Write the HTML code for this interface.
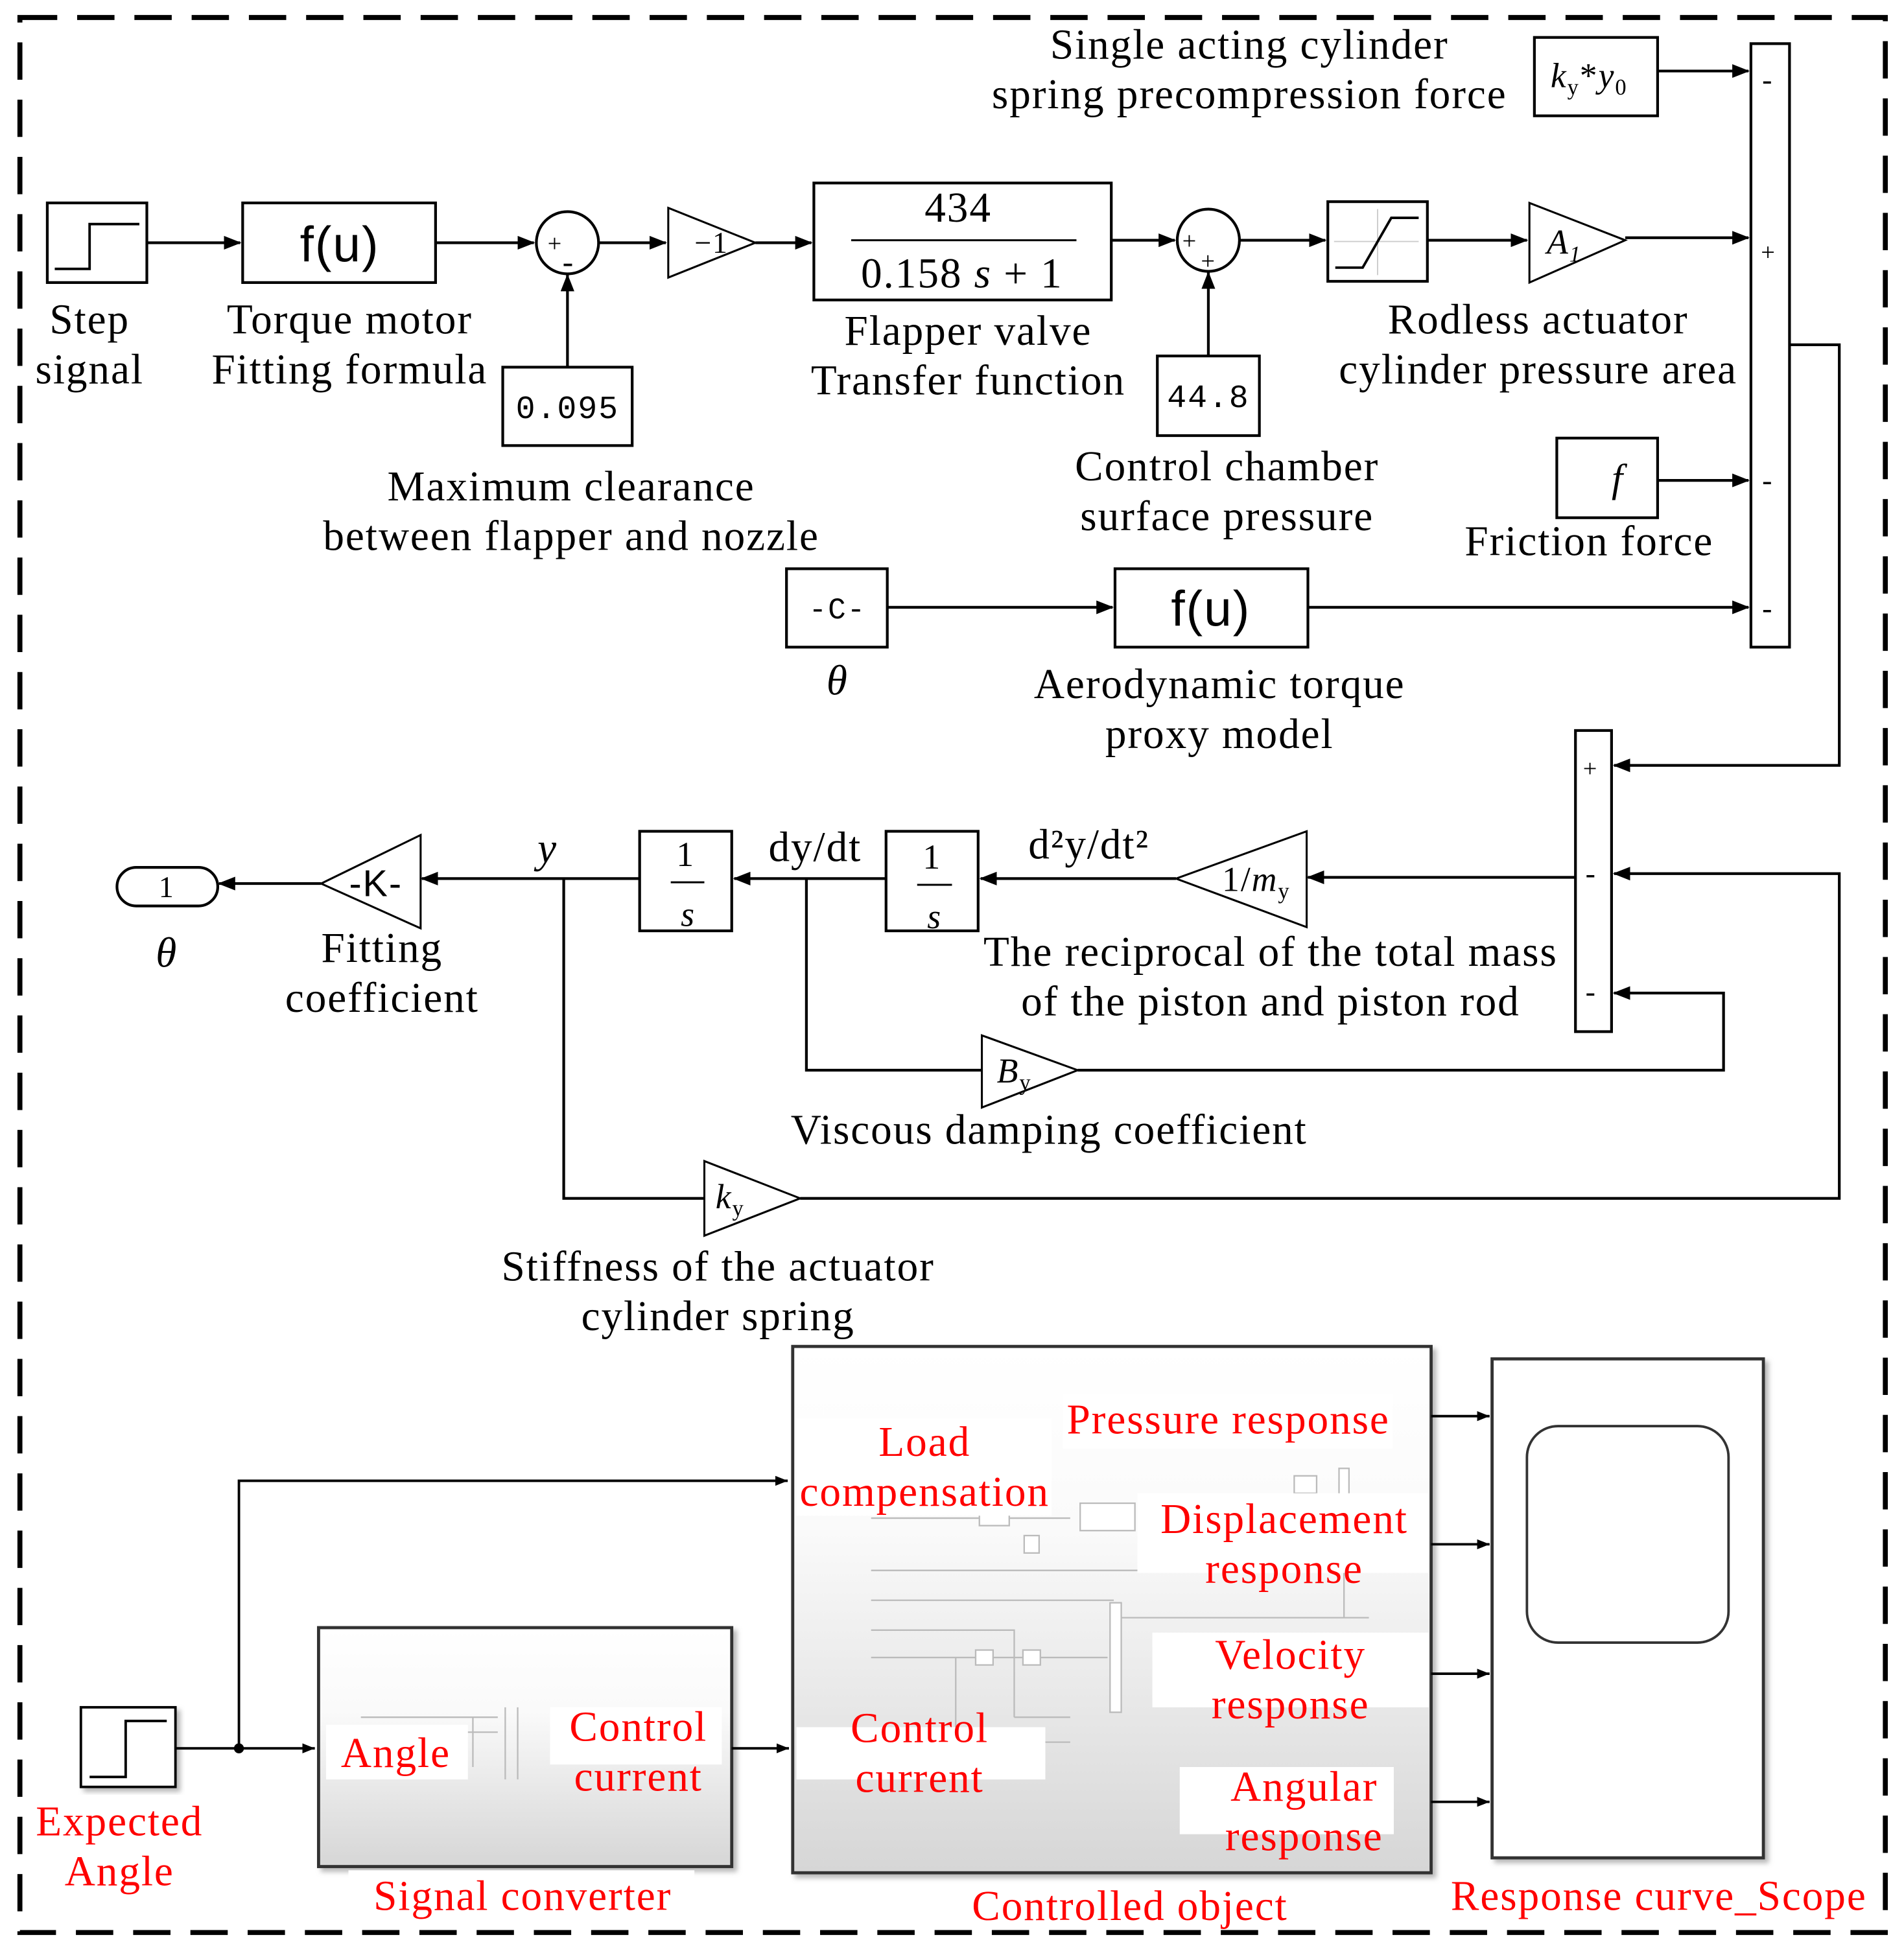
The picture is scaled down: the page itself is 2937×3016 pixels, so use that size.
<!DOCTYPE html>
<html><head><meta charset="utf-8"><style>
html,body{margin:0;padding:0;background:#fff}
svg{display:block}
text{font-family:"Liberation Serif",serif;font-size:34px;fill:#000;letter-spacing:1px}
.r{fill:#ff0000}
.i{font-style:italic}
</style></head><body>
<svg width="2937" height="3016" viewBox="0 0 1530 1571" xmlns="http://www.w3.org/2000/svg">
<defs>
<marker id="a" markerWidth="14" markerHeight="11" refX="13" refY="5.5" orient="auto" markerUnits="userSpaceOnUse"><path d="M0,0 L14,5.5 L0,11 Z" fill="#000"/></marker>
<marker id="b" markerWidth="10" markerHeight="8" refX="10" refY="4" orient="auto" markerUnits="userSpaceOnUse"><path d="M0,0 L10,4 L0,8 Z" fill="#000"/></marker>
<linearGradient id="g" x1="0" y1="0" x2="0" y2="1"><stop offset="0" stop-color="#fff"/><stop offset="0.35" stop-color="#fafafa"/><stop offset="1" stop-color="#d6d6d6"/></linearGradient>
<filter id="sh"><feDropShadow dx="3" dy="3" stdDeviation="2" flood-color="#888" flood-opacity="0.6"/></filter>
</defs>
<rect x="0" y="0" width="1530" height="1571" fill="#fff"/>
<rect x="16" y="14" width="1499" height="1539" fill="none" stroke="#000" stroke-width="4" stroke-dasharray="30,16"/>

<g fill="none" stroke="#000" stroke-width="2.2">
<rect x="38" y="163" width="80" height="64" fill="#fff"/>
<path d="M44,216 H72 V180 H112" stroke-width="2"/>
<path d="M118,195 H193" marker-end="url(#a)"/>
<rect x="195" y="163" width="155" height="64"/>
<path d="M350,195 H429" marker-end="url(#a)"/>
<circle cx="456" cy="195" r="25"/>
<rect x="404" y="295" width="104" height="63"/>
<path d="M456,295 V221" marker-end="url(#a)"/>
<path d="M481,195 H535" marker-end="url(#a)"/>
<path d="M537,167 L607,195 L537,223 Z" stroke-width="1.6"/>
<path d="M607,195 H652" marker-end="url(#a)"/>
<rect x="654" y="147" width="239" height="94"/>
<path d="M684,193 H865" stroke-width="1.6"/>
<path d="M893,193 H944" marker-end="url(#a)"/>
<circle cx="971" cy="193" r="25"/>
<rect x="930" y="286" width="82" height="64"/>
<path d="M971,286 V219" marker-end="url(#a)"/>
<path d="M996,193 H1065" marker-end="url(#a)"/>
<rect x="1067" y="162" width="80" height="64"/>
<path d="M1072,194 H1140 M1107,168 V221" stroke="#ccc" stroke-width="1"/>
<path d="M1073,215 H1095 L1118,175 H1140" stroke-width="2"/>
<path d="M1147,193 H1227" marker-end="url(#a)"/>
<path d="M1229,163 L1306,193 L1229,227 Z" stroke-width="1.6"/>
<path d="M1306,191 H1405" marker-end="url(#a)"/>
<rect x="1407" y="35" width="31" height="485"/>
<rect x="1233" y="30" width="99" height="63"/>
<path d="M1332,57 H1405" marker-end="url(#a)"/>
<rect x="1251" y="352" width="81" height="64"/>
<path d="M1332,386 H1405" marker-end="url(#a)"/>
<rect x="632" y="457" width="81" height="63"/>
<path d="M713,488 H894" marker-end="url(#a)"/>
<rect x="896" y="457" width="155" height="63"/>
<path d="M1051,488 H1405" marker-end="url(#a)"/>
<path d="M1438,277 H1478 V615 H1297" marker-end="url(#a)"/>
<rect x="1266" y="587" width="29" height="242"/>
<path d="M1266,705 H1051" marker-end="url(#a)"/>
<path d="M945,706 L1050,668 L1050,745 Z" stroke-width="1.6"/>
<path d="M945,706 H788" marker-end="url(#a)"/>
<rect x="712" y="668" width="74" height="80"/>
<path d="M737,711 H765" stroke-width="1.6"/>
<path d="M712,706 H590" marker-end="url(#a)"/>
<rect x="514" y="668" width="74" height="80"/>
<path d="M539,709 H566" stroke-width="1.6"/>
<path d="M514,706 H339" marker-end="url(#a)"/>
<path d="M258,710 L338,671 L338,746 Z" stroke-width="1.6"/>
<path d="M258,710 H176" marker-end="url(#a)"/>
<rect x="94" y="697" width="81" height="31" rx="15.5"/>
<path d="M648,706 V860 H789"/>
<path d="M789,832 L866,860 L789,890 Z" stroke-width="1.6"/>
<path d="M866,860 H1385 V798 H1297" marker-end="url(#a)"/>
<path d="M453,706 V963 H566"/>
<path d="M566,933 L643,963 L566,993 Z" stroke-width="1.6"/>
<path d="M643,963 H1478 V702 H1297" marker-end="url(#a)"/>
</g>

<g style="letter-spacing:0">
<text x="440" y="202" style="font-size:20px">+</text>
<text x="452" y="219" style="font-size:26px">-</text>
<text x="950" y="200" style="font-size:20px">+</text>
<text x="965" y="216" style="font-size:20px">+</text>
<text x="1416" y="72" style="font-size:24px">-</text>
<text x="1415" y="209" style="font-size:20px">+</text>
<text x="1416" y="394" style="font-size:24px">-</text>
<text x="1416" y="497" style="font-size:24px">-</text>
<text x="1272" y="624" style="font-size:20px">+</text>
<text x="1274" y="710" style="font-size:24px">-</text>
<text x="1274" y="805" style="font-size:24px">-</text>

<text x="273" y="210" text-anchor="middle" style="font-family:'Liberation Sans',sans-serif;font-size:40px">f(u)</text>
<text x="973" y="503" text-anchor="middle" style="font-family:'Liberation Sans',sans-serif;font-size:40px">f(u)</text>
<text x="456" y="336" text-anchor="middle" style="font-family:'Liberation Mono',monospace;font-size:26px">0.095</text>
<text x="971" y="327" text-anchor="middle" style="font-family:'Liberation Mono',monospace;font-size:26px">44.8</text>
<text x="558" y="203" style="font-size:24px">−1</text>
<text x="770" y="178" text-anchor="middle" style="font-size:34px">434</text>
<text x="773" y="231" text-anchor="middle" style="font-size:34px">0.158 <tspan class="i">s</tspan> + 1</text>
<text x="1243" y="204" class="i" style="font-size:28px">A<tspan font-size="18" dy="6">1</tspan></text>
<text x="1246" y="70" style="font-size:28px"><tspan class="i">k</tspan><tspan font-size="18" dy="6">y</tspan><tspan dy="-6">*</tspan><tspan class="i">y</tspan><tspan font-size="18" dy="6">0</tspan></text>
<text x="1300" y="395" class="i" text-anchor="middle" style="font-size:32px">f</text>
<text x="673" y="497" text-anchor="middle" style="font-family:'Liberation Mono',monospace;font-size:24px">-C-</text>
<text x="982" y="716" style="font-size:28px">1/<tspan class="i">m</tspan><tspan font-size="18" dy="6">y</tspan></text>
<text x="749" y="698" text-anchor="middle" style="font-size:28px">1</text>
<text x="751" y="746" text-anchor="middle" class="i" style="font-size:28px">s</text>
<text x="551" y="696" text-anchor="middle" style="font-size:28px">1</text>
<text x="553" y="744" text-anchor="middle" class="i" style="font-size:28px">s</text>
<text x="302" y="720" text-anchor="middle" style="font-family:'Liberation Sans',sans-serif;font-size:30px">-K-</text>
<text x="134" y="721" text-anchor="middle" style="font-size:24px">1</text>
<text x="801" y="870" class="i" style="font-size:28px">B<tspan font-size="18" dy="6" font-style="normal">y</tspan></text>
<text x="575" y="971" class="i" style="font-size:28px">k<tspan font-size="18" dy="6" font-style="normal">y</tspan></text>
</g>

<g text-anchor="middle">
<text x="1004" y="47">Single acting cylinder</text>
<text x="1004" y="87">spring precompression force</text>
<text x="72" y="268">Step</text>
<text x="72" y="308">signal</text>
<text x="281" y="268">Torque motor</text>
<text x="281" y="308">Fitting formula</text>
<text x="778" y="277">Flapper valve</text>
<text x="778" y="317">Transfer function</text>
<text x="459" y="402">Maximum clearance</text>
<text x="459" y="442">between flapper and nozzle</text>
<text x="1236" y="268">Rodless actuator</text>
<text x="1236" y="308">cylinder pressure area</text>
<text x="986" y="386">Control chamber</text>
<text x="986" y="426">surface pressure</text>
<text x="1277" y="446">Friction force</text>
<text x="673" y="558" class="i">θ</text>
<text x="980" y="561">Aerodynamic torque</text>
<text x="980" y="601">proxy model</text>
<text x="440" y="693" class="i">y</text>
<text x="655" y="692">dy/dt</text>
<text x="875" y="690">d²y/dt²</text>
<text x="134" y="777" class="i">θ</text>
<text x="307" y="773">Fitting</text>
<text x="307" y="813">coefficient</text>
<text x="1021" y="776">The reciprocal of the total mass</text>
<text x="1021" y="816">of the piston and piston rod</text>
<text x="843" y="919">Viscous damping coefficient</text>
<text x="577" y="1029">Stiffness of the actuator</text>
<text x="577" y="1069">cylinder spring</text>
</g>

<g fill="none" stroke="#000" stroke-width="2">
<rect x="65" y="1372" width="76" height="64" fill="#fff" filter="url(#sh)"/>
<path d="M72,1428 H101 V1383 H134"/>
<path d="M141,1405 H253" marker-end="url(#b)"/>
<path d="M192,1405 V1190 H633" marker-end="url(#b)"/>
<rect x="256" y="1308" width="332" height="192" fill="url(#g)" filter="url(#sh)" stroke="#333" stroke-width="2.5"/>
<path d="M588,1405 H634" marker-end="url(#b)"/>
<rect x="637" y="1082" width="513" height="423" fill="url(#g)" filter="url(#sh)" stroke="#333" stroke-width="2.5"/>
<path d="M1150,1138 H1197" marker-end="url(#b)"/>
<path d="M1150,1241 H1197" marker-end="url(#b)"/>
<path d="M1150,1345 H1197" marker-end="url(#b)"/>
<path d="M1150,1448 H1197" marker-end="url(#b)"/>
<rect x="1199" y="1092" width="218" height="401" fill="#fff" filter="url(#sh)" stroke="#333" stroke-width="2.5"/>
<rect x="1227" y="1146" width="162" height="174" rx="25" stroke="#333"/>
</g>
<circle cx="192" cy="1405" r="4" fill="#000"/>
<g fill="#fff" stroke="#bbb" stroke-width="1.2">
<path d="M700,1220 H860 M700,1262 H1100 M700,1286 H895 M700,1310 H815 V1380 M700,1332 H890 M768,1332 V1400 H860 M815,1380 H860 M895,1300 H1100 M1080,1190 V1300" fill="none"/>
<rect x="787" y="1212" width="24" height="14"/><rect x="868" y="1208" width="44" height="22"/>
<rect x="823" y="1234" width="12" height="14"/><rect x="1040" y="1186" width="18" height="14"/>
<rect x="784" y="1326" width="14" height="12"/><rect x="822" y="1326" width="14" height="12"/>
<rect x="892" y="1288" width="9" height="88"/><rect x="1076" y="1180" width="8" height="40"/>
<path d="M290,1380 H400 M290,1392 H400 M380,1380 V1420 M406,1372 V1430 M416,1372 V1430" fill="none"/>
</g>
<g fill="#fff">
<rect x="640" y="1140" width="205" height="78"/>
<rect x="854" y="1120" width="265" height="44"/>
<rect x="914" y="1200" width="234" height="64"/>
<rect x="926" y="1312" width="222" height="60"/>
<rect x="640" y="1388" width="200" height="42"/>
<rect x="948" y="1420" width="172" height="54"/>
<rect x="442" y="1372" width="138" height="46"/>
<rect x="262" y="1386" width="114" height="44"/>
<rect x="280" y="1503" width="278" height="40"/>
</g>
<g text-anchor="middle">
<text class="r" x="96" y="1475">Expected</text>
<text class="r" x="96" y="1515">Angle</text>
<text class="r" x="318" y="1420">Angle</text>
<text class="r" x="513" y="1399">Control</text>
<text class="r" x="513" y="1439">current</text>
<text class="r" x="420" y="1535">Signal converter</text>
<text class="r" x="743" y="1170">Load</text>
<text class="r" x="743" y="1210">compensation</text>
<text class="r" x="987" y="1152">Pressure response</text>
<text class="r" x="1032" y="1232">Displacement</text>
<text class="r" x="1032" y="1272">response</text>
<text class="r" x="1037" y="1341">Velocity</text>
<text class="r" x="1037" y="1381">response</text>
<text class="r" x="739" y="1400">Control</text>
<text class="r" x="739" y="1440">current</text>
<text class="r" x="1048" y="1447">Angular</text>
<text class="r" x="1048" y="1487">response</text>
<text class="r" x="908" y="1543">Controlled object</text>
<text class="r" x="1333" y="1535">Response curve_Scope</text>
</g>
</svg>
</body></html>
